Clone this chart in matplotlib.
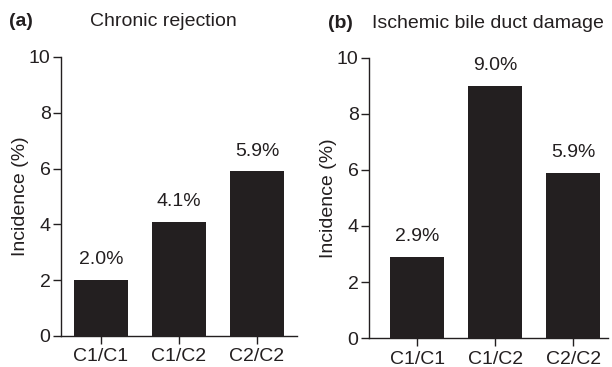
import matplotlib
matplotlib.use("Agg")
import matplotlib.pyplot as plt

categories = ["C1/C1", "C1/C2", "C2/C2"]
chronic_rejection = [2.0, 4.1, 5.9]
ischemic_bile = [2.9, 9.0, 5.9]
labels_a = ["2.0%", "4.1%", "5.9%"]
labels_b = ["2.9%", "9.0%", "5.9%"]
yticks = [0, 2, 4, 6, 8, 10]

plt.rcParams['font.family'] = ['Liberation Sans', 'DejaVu Sans']
dark = '#231f20'
fs = 14

fig = plt.figure(figsize=(6.12, 3.67), dpi=100)
ax_a = fig.add_axes([0.0997, 0.0845, 0.3853, 0.7605])
ax_b = fig.add_axes([0.603, 0.079, 0.390, 0.763])

def draw(ax, vals, labs, xlim):
    x = range(len(categories))
    ax.bar(x, vals, width=0.69, color=dark, edgecolor='none')
    for xi, v, l in zip(x, vals, labs):
        ax.text(xi, v + 0.42, l, ha='center', va='bottom', fontsize=fs, color=dark)
    ax.set_xlim(*xlim)
    ax.set_ylim(0, 10)
    ax.set_yticks(yticks)
    ax.set_xticks(list(x))
    ax.set_xticklabels(categories)
    ax.spines['top'].set_visible(False)
    ax.spines['right'].set_visible(False)
    for s in ('left', 'bottom'):
        ax.spines[s].set_color(dark)
        ax.spines[s].set_linewidth(1.0)
    ax.tick_params(axis='both', direction='out', length=6, width=1.0, colors=dark,
                   labelsize=fs)
    ax.tick_params(axis='y', pad=1.5)
    ax.tick_params(axis='x', pad=3)
    ax.set_ylabel("Incidence (%)", fontsize=fs, color=dark, labelpad=0)

draw(ax_a, chronic_rejection, labels_a, (-0.51, 2.51))
draw(ax_b, ischemic_bile, labels_b, (-0.62, 2.44))

fig.text(9/612, 1 - 22/367, "(a)", fontsize=fs, fontweight='bold', color=dark, va='center', ha='left')
fig.text(90/612, 1 - 22/367, "Chronic rejection", fontsize=fs, color=dark, va='center', ha='left')
fig.text(328/612, 1 - 23/367, "(b)", fontsize=fs, fontweight='bold', color=dark, va='center', ha='left')
fig.text(372/612, 1 - 23/367, "Ischemic bile duct damage", fontsize=fs, color=dark, va='center', ha='left')

fig.savefig("out.png", dpi=100)
